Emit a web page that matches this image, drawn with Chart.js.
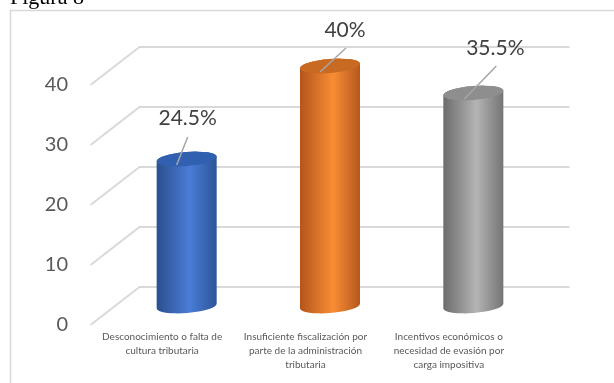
<!DOCTYPE html>
<html>
<head>
<meta charset="utf-8">
<script src="https://cdn.jsdelivr.net/npm/chart.js@4/dist/chart.umd.min.js"></script>
<style>
  html, body { margin: 0; padding: 0; background: #fff; }
  #wrap { position: relative; width: 614px; height: 383px; overflow: hidden; }
  #fig { position: absolute; left: 10px; top: -14px; font-family: "Liberation Serif", "DejaVu Serif", serif; font-size: 22px; line-height: 22px; color: #000; white-space: nowrap; }
  canvas { position: absolute; left: 0; top: 0; }
</style>
</head>
<body>
<div id="wrap">
  <canvas id="c" width="614" height="383"></canvas>
  <div id="fig">Figura 8</div>
</div>
<script>
// ---- data ----
const categories = [
  ["Desconocimiento o falta de", "cultura tributaria"],
  ["Insuficiente fiscalización por", "parte de la administración", "tributaria"],
  ["Incentivos económicos o", "necesidad de evasión por", "carga impositiva"]
];
const values = [24.5, 40, 35.5];
const valueLabels = ["24.5%", "40%", "35.5%"];
const yTicks = [0, 10, 20, 30, 40];

// ---- styles ----
const sideColors = [
  ["#2B4E8E", "#4A7DD6", "#2D5497"],
  ["#B3541B", "#F98D35", "#B5581D"],
  ["#6C6C6C", "#B4B4B4", "#747474"]
];
const topColors = ["#3160B0", "#C86A22", "#8E8E8E"];
// label placement relative to bar top (dx, dy) and leader line start/end
const labelPos = [
  {dx: 1, dy: -41, l1: [1, -22], l2: [-10, 6]},
  {dx: 15, dy: -36, l1: [16, -18], l2: [-10, 6]},
  {dx: 22, dy: -45, l1: [23, -27], l2: [-9, 6]}
];
const DEPTH_X = 24.5, DEPTH_Y = 19, ROT = -0.08, RY = 7;
const FONT = '"Lato", "Open Sans", "Liberation Sans", sans-serif';

const cylPlugin = {
  id: 'cyl',
  beforeDraw(chart) {
    const ctx = chart.ctx;
    ctx.save();
    ctx.fillStyle = '#fff';
    ctx.fillRect(0, 0, chart.width, chart.height);
    ctx.strokeStyle = '#D9D9D9';
    ctx.lineWidth = 1.5;
    ctx.strokeRect(10.5, 10.5, 700, 500);
    // grid
    const y = chart.scales.y, area = chart.chartArea;
    ctx.strokeStyle = '#D9D9D9';
    ctx.lineWidth = 2;
    yTicks.forEach(v => {
      const ym = y.getPixelForValue(v);
      ctx.beginPath();
      ctx.moveTo(area.left - DEPTH_X, ym + DEPTH_Y);
      ctx.lineTo(area.left + DEPTH_X, ym - DEPTH_Y);
      ctx.lineTo(area.right + DEPTH_X, ym - DEPTH_Y);
      ctx.stroke();
    });
    // y tick labels
    ctx.fillStyle = '#595959';
    ctx.font = '20px ' + FONT;
    ctx.textAlign = 'right';
    ctx.textBaseline = 'middle';
    yTicks.forEach(v => {
      ctx.fillText(String(v), 68, y.getPixelForValue(v) + DEPTH_Y);
    });
    // x labels
    const x = chart.scales.x;
    ctx.font = '10px ' + FONT;
    ctx.textAlign = 'center';
    ctx.fillStyle = '#595959';
    categories.forEach((lines, i) => {
      const cx = x.getPixelForValue(i) - DEPTH_X;
      lines.forEach((t, k) => ctx.fillText(t, cx, 337 + k * 14));
    });
    ctx.restore();
  },
  afterDatasetsDraw(chart) {
    const ctx = chart.ctx;
    const meta = chart.getDatasetMeta(0);
    meta.data.forEach((bar, i) => {
      const cx = bar.x, top = bar.y, base = bar.base, rx = bar.width / 2;
      const ex = rx * Math.cos(ROT), ey = rx * Math.sin(ROT);
      ctx.save();
      const g = ctx.createLinearGradient(cx - rx, 0, cx + rx, 0);
      g.addColorStop(0, sideColors[i][0]);
      g.addColorStop(0.55, sideColors[i][1]);
      g.addColorStop(1, sideColors[i][2]);
      ctx.beginPath();
      ctx.moveTo(cx - ex, top - ey);
      ctx.lineTo(cx - ex, base - ey);
      ctx.ellipse(cx, base, rx, RY, ROT, Math.PI, 0, true);
      ctx.lineTo(cx + ex, top + ey);
      ctx.ellipse(cx, top, rx, RY, ROT, 0, Math.PI, true);
      ctx.closePath();
      ctx.fillStyle = g;
      ctx.fill();
      ctx.beginPath();
      ctx.ellipse(cx, top, rx, RY, ROT, 0, Math.PI * 2);
      ctx.fillStyle = topColors[i];
      ctx.fill();
      // leader + label
      const p = labelPos[i];
      ctx.strokeStyle = '#A6A6A6';
      ctx.lineWidth = 1.5;
      ctx.beginPath();
      ctx.moveTo(cx + p.l1[0], top + p.l1[1]);
      ctx.lineTo(cx + p.l2[0], top + p.l2[1]);
      ctx.stroke();
      ctx.fillStyle = '#404040';
      ctx.font = '21px ' + FONT;
      ctx.textAlign = 'center';
      ctx.textBaseline = 'middle';
      ctx.fillText(valueLabels[i], cx + p.dx, top + p.dy);
      ctx.restore();
    });
  }
};

new Chart(document.getElementById('c'), {
  type: 'bar',
  data: {
    labels: categories,
    datasets: [{
      data: values,
      backgroundColor: 'rgba(0,0,0,0)',
      borderWidth: 0,
      barPercentage: 1,
      categoryPercentage: 0.42
    }]
  },
  options: {
    responsive: false,
    animation: false,
    devicePixelRatio: 1,
    layout: { padding: { left: 115, right: 69, top: 66, bottom: 77 } },
    plugins: { legend: { display: false }, tooltip: { enabled: false } },
    scales: {
      x: { display: false },
      y: { display: false, min: 0, max: 40 }
    }
  },
  plugins: [cylPlugin]
});
</script>
</body>
</html>
